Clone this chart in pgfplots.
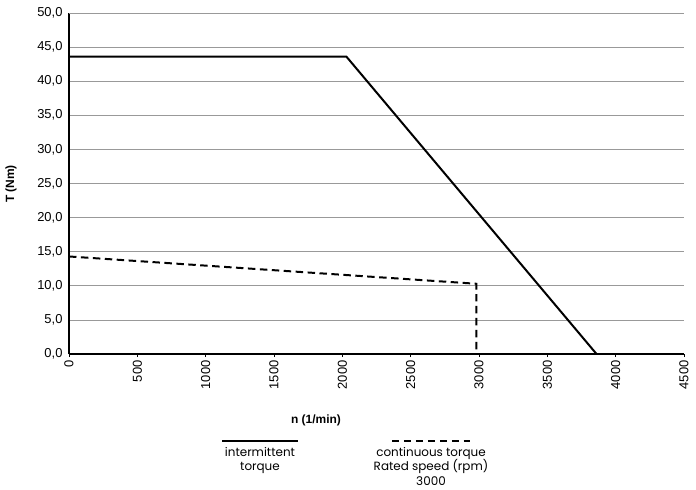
\documentclass[border=0pt]{standalone}
\usepackage{pgfplots}
\pgfplotsset{compat=1.18}
\usepackage{fontspec}
\setmainfont{Liberation Sans}
\newfontfamily\legfont{Poppins}
\begin{document}
\begin{tikzpicture}
\useasboundingbox (-69bp,-136bp) rectangle (627bp,354bp);
\begin{axis}[
  at={(0,0)}, anchor=south west,
  scale only axis, width=615bp, height=341bp,
  xmin=0, xmax=4500, ymin=0, ymax=50,
  axis x line*=bottom, axis y line*=left,
  axis line style={line width=1.6pt, -},
  xtick={0,500,...,4500}, ytick={0,5,...,50},
  ymajorgrids, major grid style={gray!80, line width=0.7pt},
  extra y ticks={50}, extra y tick labels={}, extra y tick style={grid style={black, line width=0.8pt}},
  xtick style={black, line width=0.8pt},
  major tick length=3bp,
  ytick style={draw=none},
  tick align=outside,
  /pgf/number format/assume math mode=true,
  xticklabel style={rotate=90, anchor=east, font=\fontsize{13}{14}\selectfont, /pgf/number format/.cd, 1000 sep={}},
  yticklabel style={font=\fontsize{13}{14}\selectfont, /pgf/number format/.cd, fixed, fixed zerofill, precision=1, use comma},
  scaled ticks=false,
  ylabel={\textbf{T (Nm)}},
  ylabel style={font=\fontsize{12}{14}\selectfont, at={(-58bp,170bp)}, anchor=center},
  clip=false,
]
\addplot[black, line width=2pt] coordinates {(0,43.6) (2030,43.6) (3860,0)};
\addplot[black, line width=2pt, dash pattern=on 7.5pt off 4.5pt] coordinates {(0,14.3) (2980,10.3) (2980,0)};
\end{axis}
\node[font=\bfseries\fontsize{12}{14}\selectfont] at (247bp,-66bp) {n (1/min)};
\draw[black, line width=2pt] (153bp,-87bp) -- (229bp,-87bp);
\node[font=\legfont\fontsize{12}{14.5}\selectfont, align=center, anchor=north, inner sep=0pt] at (191bp,-93bp) {intermittent\\torque};
\draw[black, line width=2pt, dash pattern=on 7.5pt off 4.5pt] (323bp,-87bp) -- (401bp,-87bp);
\node[font=\legfont\fontsize{12}{14.5}\selectfont, align=center, anchor=north, inner sep=0pt] at (362bp,-93bp) {continuous torque\\Rated speed (rpm)\\3000};
\end{tikzpicture}
\end{document}
